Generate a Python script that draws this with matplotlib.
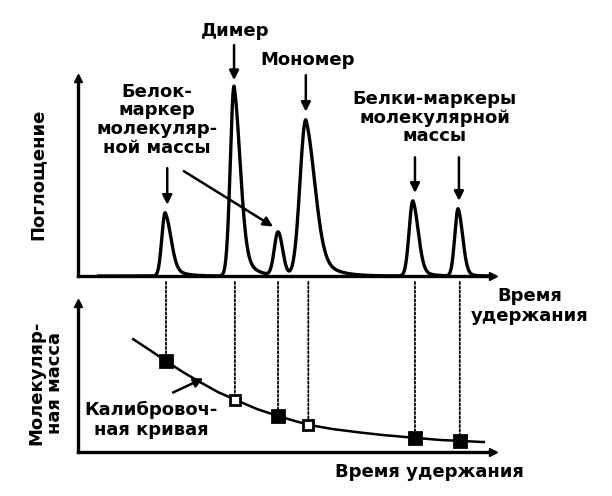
import numpy as np
import matplotlib
matplotlib.use("Agg")
import matplotlib.pyplot as plt
from matplotlib.patches import ConnectionPatch

plt.rcParams['font.family'] = ['DejaVu Sans']

# peaks of the chromatogram (retention time, height, left/right width, tail)
peak_t = [2.10, 3.76, 4.82, 5.49, 8.07, 9.16]
peak_h = [0.32, 0.96, 0.22, 0.79, 0.38, 0.34]
peak_sl = [0.08, 0.09, 0.09, 0.14, 0.09, 0.08]
peak_sr = [0.14, 0.15, 0.11, 0.22, 0.13, 0.11]
tail_frac = [0.25, 0.30, 0.0, 0.30, 0.20, 0.15]
tail_len = [0.25, 0.24, 0.10, 0.35, 0.20, 0.15]

# calibration: markers at the peak times, filled = markers, open = sample
marker_t = [2.12, 3.78, 4.82, 5.55, 8.12, 9.20]
marker_m = [0.611, 0.350, 0.242, 0.183, 0.095, 0.074]
marker_open = [False, True, False, True, False, False]

curve_t = [1.33, 1.73, 2.12, 2.53, 2.94, 3.37, 3.81, 4.31, 4.82, 5.23,
           5.59, 6.14, 6.80, 7.35, 8.17, 8.72, 9.23, 9.78]
curve_m = [0.758, 0.685, 0.611, 0.537, 0.470, 0.403, 0.349, 0.289, 0.242, 0.208,
           0.181, 0.154, 0.131, 0.114, 0.094, 0.081, 0.074, 0.067]


def peak(t, t0, h, sl, sr, f, tau):
    d = t - t0
    left = h * np.exp(-0.5 * (d / sl) ** 2)
    right = h * ((1 - f) * np.exp(-0.5 * (d / sr) ** 2) + f * np.exp(-np.clip(d, 0, None) / tau))
    return np.where(d < 0, left, right)


fig = plt.figure(figsize=(6.12, 4.96), dpi=100)
ax1 = fig.add_axes([0.1275, 0.4435, 0.678, 0.399])
ax2 = fig.add_axes([0.1275, 0.0887, 0.678, 0.300])

fs = 13
tk = dict(fontsize=fs, fontweight='bold', ha='center', va='center')
arr = dict(arrowstyle='-|>', color='black', lw=1.8, mutation_scale=14, shrinkA=0, shrinkB=0)

t = np.linspace(0.5, 9.95, 2000)
y = np.zeros_like(t)
for i in range(len(peak_t)):
    y += peak(t, peak_t[i], peak_h[i], peak_sl[i], peak_sr[i], tail_frac[i], tail_len[i])
ax1.plot(t, y, color='black', lw=2.4)

for ax in (ax1, ax2):
    ax.set_xlim(0, 10)
    for s in ('top', 'right'):
        ax.spines[s].set_visible(False)
    for s in ('left', 'bottom'):
        ax.spines[s].set_linewidth(2.4)
    ax.set_xticks([])
    ax.set_yticks([])
    ax.plot(1, 0, '>k', ms=6, transform=ax.get_yaxis_transform(), clip_on=False)
    ax.plot(0, 1, '^k', ms=6, transform=ax.get_xaxis_transform(), clip_on=False)
ax1.set_ylim(0, 1)
ax2.set_ylim(0, 1)

# top annotations
ax1.text(3.78, 1.24, 'Димер', **tk)
ax1.annotate('', xy=(3.76, 0.99), xytext=(3.76, 1.167), arrowprops=arr, annotation_clip=False)
ax1.text(5.54, 1.09, 'Мономер', **tk)
ax1.annotate('', xy=(5.49, 0.83), xytext=(5.49, 1.015), arrowprops=arr, annotation_clip=False)
ax1.text(1.90, 0.79, 'Белок-\nмаркер\nмолекуляр-\nной массы', linespacing=1.05, **tk)
ax1.annotate('', xy=(2.15, 0.36), xytext=(2.15, 0.545), arrowprops=arr)
ax1.annotate('', xy=(4.70, 0.25), xytext=(2.55, 0.53), arrowprops=arr)
ax1.text(8.6, 0.80, 'Белки-маркеры\nмолекулярной\nмассы', linespacing=1.05, **tk)
ax1.annotate('', xy=(8.12, 0.42), xytext=(8.12, 0.60), arrowprops=arr)
ax1.annotate('', xy=(9.18, 0.38), xytext=(9.18, 0.60), arrowprops=arr)

fig.text(0.062, 0.649, 'Поглощение', rotation=90, **tk)
fig.text(0.866, 0.383, 'Время\nудержания', linespacing=1.2, **tk)

# calibration curve
ax2.plot(curve_t, curve_m, color='black', lw=1.8)
for i in range(len(marker_t)):
    ax2.plot(marker_t[i], marker_m[i], 's', ms=8 if not marker_open[i] else 7,
             mfc='white' if marker_open[i] else 'black', mec='black', mew=2, zorder=3)
    con = ConnectionPatch(xyA=(marker_t[i], -0.03), coordsA=ax1.transData,
                          xyB=(marker_t[i], marker_m[i] + 0.03), coordsB=ax2.transData,
                          linestyle=(0, (1.2, 1.2)), lw=1.3, color='black')
    fig.add_artist(con)

ax2.text(1.76, 0.215, 'Калибровоч-\nная кривая', linespacing=1.1, **tk)
ax2.annotate('', xy=(3.02, 0.495), xytext=(2.29, 0.40), arrowprops=arr)
ax2.text(8.48, -0.134, 'Время удержания', clip_on=False, **tk)
fig.text(0.075, 0.228, 'Молекуляр-\nная масса', rotation=90, linespacing=1.05, **tk)

fig.savefig('out.png', dpi=100)
